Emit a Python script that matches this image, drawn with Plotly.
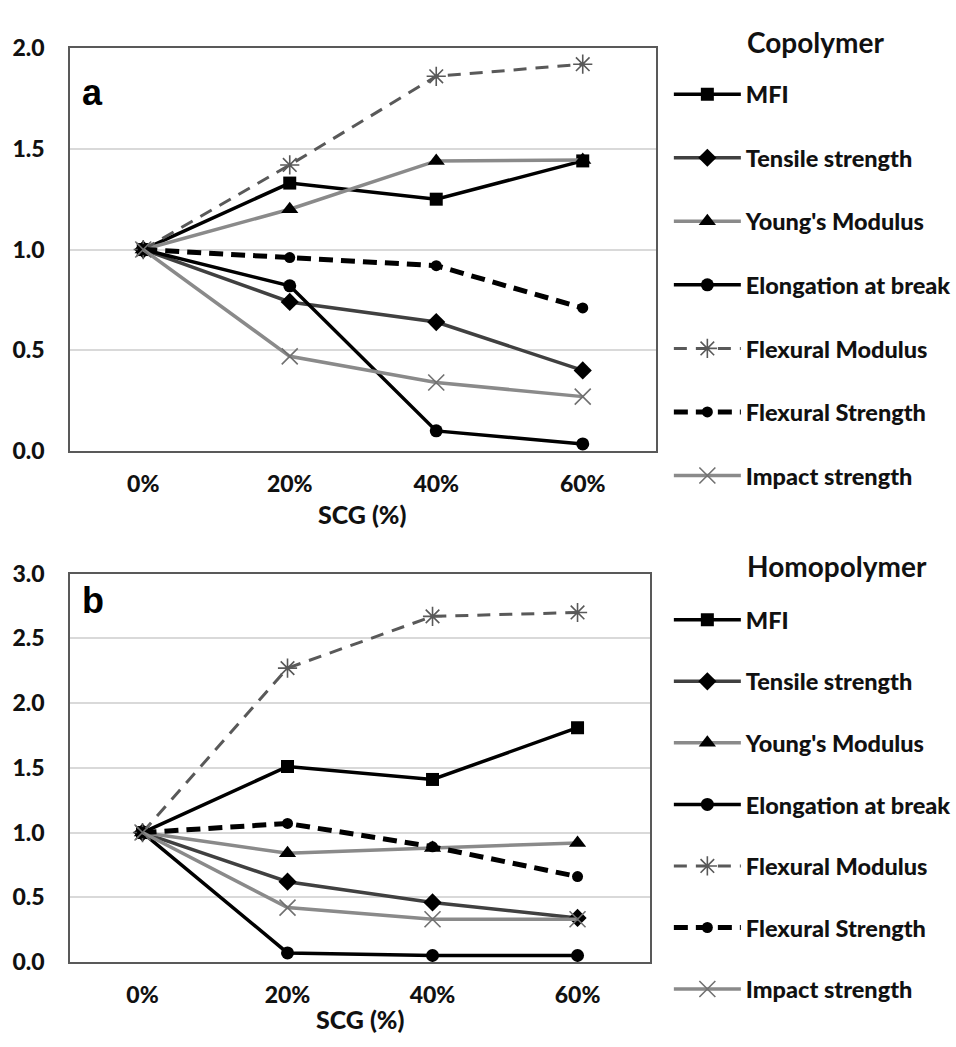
import plotly.graph_objects as go

# SCG loading levels (x categories)
scg_levels = ["0%", "20%", "40%", "60%"]

# Property names, in legend order
properties = [
    "MFI",
    "Tensile strength",
    "Young's Modulus",
    "Elongation at break",
    "Flexural Modulus",
    "Flexural Strength",
    "Impact strength",
]

# Relative property values, copolymer matrix
copolymer_mfi = [1.0, 1.33, 1.25, 1.44]
copolymer_tensile = [1.0, 0.74, 0.64, 0.40]
copolymer_young = [1.0, 1.20, 1.44, 1.445]
copolymer_elongation = [1.0, 0.82, 0.10, 0.035]
copolymer_flex_modulus = [1.0, 1.42, 1.86, 1.92]
copolymer_flex_strength = [1.0, 0.96, 0.92, 0.71]
copolymer_impact = [1.0, 0.47, 0.34, 0.27]

# Relative property values, homopolymer matrix
homopolymer_mfi = [1.0, 1.51, 1.41, 1.81]
homopolymer_tensile = [1.0, 0.62, 0.46, 0.34]
homopolymer_young = [1.0, 0.84, 0.88, 0.92]
homopolymer_elongation = [1.0, 0.07, 0.05, 0.05]
homopolymer_flex_modulus = [1.0, 2.27, 2.67, 2.70]
homopolymer_flex_strength = [1.0, 1.07, 0.89, 0.66]
homopolymer_impact = [1.0, 0.42, 0.33, 0.33]

copolymer_series = [
    copolymer_mfi, copolymer_tensile, copolymer_young, copolymer_elongation,
    copolymer_flex_modulus, copolymer_flex_strength, copolymer_impact,
]
homopolymer_series = [
    homopolymer_mfi, homopolymer_tensile, homopolymer_young, homopolymer_elongation,
    homopolymer_flex_modulus, homopolymer_flex_strength, homopolymer_impact,
]

# Line / marker style for each property
styles = [
    dict(line=dict(color="#000000", width=3.5), marker=dict(symbol="square", size=13, color="#000000")),
    dict(line=dict(color="#404040", width=3.5), marker=dict(symbol="diamond", size=14, color="#000000")),
    dict(line=dict(color="#8a8a8a", width=3.5), marker=dict(symbol="triangle-up", size=15, color="#000000")),
    dict(line=dict(color="#000000", width=3.5), marker=dict(symbol="circle", size=13, color="#000000")),
    dict(line=dict(color="#595959", width=3, dash="13px,9px"),
         marker=dict(symbol="asterisk-open", size=16, color="#595959", line=dict(width=1.6, color="#595959"))),
    dict(line=dict(color="#000000", width=5, dash="14px,8px"), marker=dict(symbol="circle", size=11, color="#000000")),
    dict(line=dict(color="#8a8a8a", width=3.5),
         marker=dict(symbol="x-thin-open", size=16, color="#707070", line=dict(width=1.6, color="#707070"))),
]

FONT = "Lato"
TEXT_COLOR = "#111111"
W, H = 956, 1047
ML = 70
PW = W - ML


def px_x(p):
    return (p - ML) / PW


def px_y(p):
    return 1 - p / H


fig = go.Figure()

for panel, series, legend_name, xa, ya in [
    ("a", copolymer_series, "legend", "x", "y"),
    ("b", homopolymer_series, "legend2", "x2", "y2"),
]:
    for name, values, st in zip(properties, series, styles):
        fig.add_trace(go.Scatter(
            x=scg_levels, y=values, name=name, mode="lines+markers",
            line=st["line"], marker=st["marker"],
            xaxis=xa, yaxis=ya, legend=legend_name,
            legendgroup=panel + name,
        ))

axis_common = dict(
    showline=True, mirror=True, linecolor="#595959", linewidth=1.5,
    tickfont=dict(family=FONT, size=23, color=TEXT_COLOR, weight=900),
    ticks="", zeroline=False,
)

legend_font = dict(family=FONT, size=23.5, color=TEXT_COLOR, weight=900)

fig.update_layout(
    width=W, height=H,
    margin=dict(l=ML, r=0, t=0, b=0),
    paper_bgcolor="white", plot_bgcolor="white",
    font=dict(family=FONT, color=TEXT_COLOR),
    xaxis=dict(domain=[0, px_x(662)], anchor="y", type="category",
               categoryorder="array", categoryarray=scg_levels,
               range=[-0.5, 3.5], showgrid=False, ticklabelstandoff=12, **axis_common),
    yaxis=dict(domain=[px_y(448), px_y(34)], anchor="x", range=[0, 2], dtick=0.5,
               tickformat=".1f", showgrid=True, gridcolor="#d9d9d9", gridwidth=1.5,
               ticklabelstandoff=19, **axis_common),
    xaxis2=dict(domain=[0, px_x(656)], anchor="y2", type="category",
                categoryorder="array", categoryarray=scg_levels,
                range=[-0.5, 3.5], showgrid=False, ticklabelstandoff=12, **axis_common),
    yaxis2=dict(domain=[px_y(973), px_y(574)], anchor="x2", range=[0, 3], dtick=0.5,
                tickformat=".1f", showgrid=True, gridcolor="#d9d9d9", gridwidth=1.5,
                ticklabelstandoff=19, **axis_common),
    legend=dict(x=px_x(675), y=px_y(59), xanchor="left", yanchor="top",
                font=legend_font, tracegroupgap=30, itemwidth=67,
                bgcolor="rgba(0,0,0,0)"),
    legend2=dict(x=px_x(675), y=px_y(599), xanchor="left", yanchor="top",
                 font=legend_font, tracegroupgap=28, itemwidth=67,
                 bgcolor="rgba(0,0,0,0)"),
    annotations=[
        dict(text="a", x=px_x(80), y=px_y(80), xref="paper", yref="paper",
             xanchor="left", yanchor="middle", showarrow=False,
             font=dict(family="Liberation Sans", size=36, color="#000000", weight="bold")),
        dict(text="b", x=px_x(80), y=px_y(602), xref="paper", yref="paper",
             xanchor="left", yanchor="middle", showarrow=False,
             font=dict(family="Liberation Sans", size=36, color="#000000", weight="bold")),
        dict(text="Copolymer", x=px_x(752), y=px_y(28), xref="paper", yref="paper",
             xanchor="left", yanchor="middle", showarrow=False,
             font=dict(family=FONT, size=28, color=TEXT_COLOR, weight="bold")),
        dict(text="Homopolymer", x=px_x(752), y=px_y(566), xref="paper", yref="paper",
             xanchor="left", yanchor="middle", showarrow=False,
             font=dict(family=FONT, size=28, color=TEXT_COLOR, weight="bold")),
        dict(text="SCG (%)", x=px_x(366), y=px_y(513), xref="paper", yref="paper",
             xanchor="center", yanchor="middle", showarrow=False,
             font=dict(family=FONT, size=25, color=TEXT_COLOR, weight=900)),
        dict(text="SCG (%)", x=px_x(363), y=px_y(1032), xref="paper", yref="paper",
             xanchor="center", yanchor="middle", showarrow=False,
             font=dict(family=FONT, size=25, color=TEXT_COLOR, weight=900)),
    ],
)

fig.write_html("out.html")
